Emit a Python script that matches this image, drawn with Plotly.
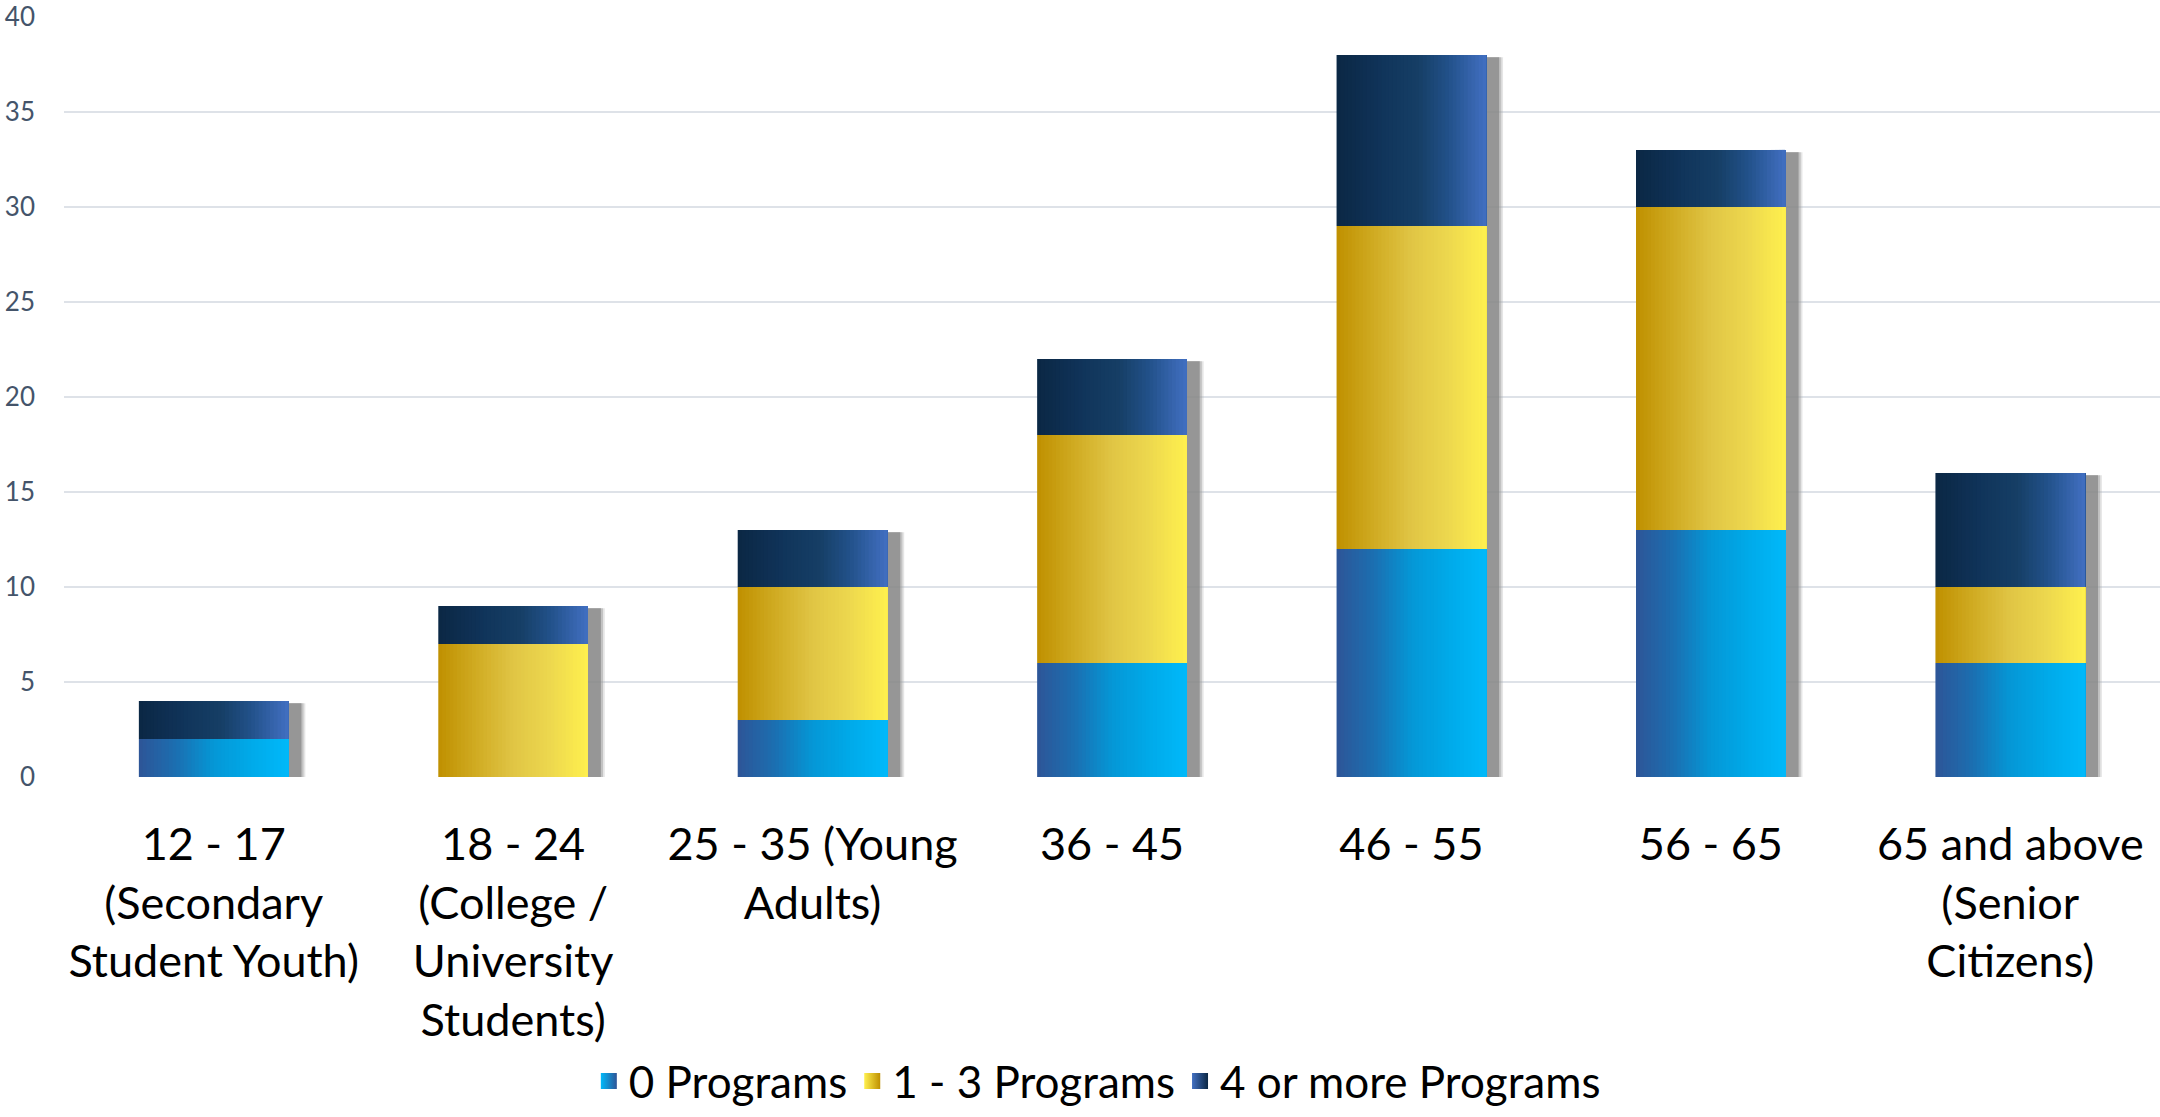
import plotly.graph_objects as go

categories = [
    "12 - 17<br>(Secondary<br>Student Youth)",
    "18 - 24<br>(College /<br>University<br>Students)",
    "25 - 35 (Young<br>Adults)",
    "36 - 45",
    "46 - 55",
    "56 - 65",
    "65 and above<br>(Senior<br>Citizens)",
]
series_names = ["0 Programs", "1 - 3 Programs", "4 or more Programs"]
zero_programs = [2, 0, 3, 6, 12, 13, 6]
one_to_three = [0, 7, 7, 12, 17, 17, 4]
four_plus = [2, 2, 3, 4, 9, 3, 6]
y_ticks = [0, 5, 10, 15, 20, 25, 30, 35, 40]

gradients = [
    [(0.0, "#2E5597"), (0.25, "#1B6FB1"), (0.5, "#0597D6"), (0.75, "#00AAE9"), (1.0, "#00B9FA")],
    [(0.0, "#BF9000"), (0.25, "#D0AB22"), (0.5, "#E0C545"), (0.75, "#EDD84E"), (1.0, "#FFF04E")],
    [(0.0, "#0B2744"), (0.3, "#10345A"), (0.55, "#163F66"), (0.75, "#22518A"), (1.0, "#4270C2")],
]

def hex2rgb(h):
    h = h.lstrip("#")
    return tuple(int(h[i:i + 2], 16) for i in (0, 2, 4))

def interp(stops, t):
    for (t0, c0), (t1, c1) in zip(stops, stops[1:]):
        if t0 <= t <= t1:
            f = (t - t0) / (t1 - t0) if t1 > t0 else 0
            a, b = hex2rgb(c0), hex2rgb(c1)
            r = [round(a[i] + (b[i] - a[i]) * f) for i in range(3)]
            return "rgb(%d,%d,%d)" % tuple(r)
    return stops[-1][1]

values = [zero_programs, one_to_three, four_plus]
x = list(range(len(categories)))
totals = [sum(v) for v in zip(*values)]
BAR_W = 0.5
N = 40

fig = go.Figure()

# soft drop shadows behind each stack
for dx, col in [(0.056, "rgba(170,170,170,0.30)"), (0.050, "rgba(150,150,150,0.45)"),
                (0.043, "rgba(135,135,135,0.75)")]:
    fig.add_trace(go.Bar(
        x=x, y=[t - 0.12 for t in totals], base=[0.0] * len(x), width=BAR_W, offset=-BAR_W / 2 + dx,
        marker=dict(color=col, line=dict(width=0)), showlegend=False, hoverinfo="skip"))

bases = [0] * len(x)
for s, vals in enumerate(values):
    for k in range(N):
        t = (k + 0.5) / N
        off = -BAR_W / 2 + k * BAR_W / N
        fig.add_trace(go.Bar(
            x=x, y=vals, base=list(bases), width=BAR_W - k * BAR_W / N,
            offset=off,
            marker=dict(color=interp(gradients[s], t), line=dict(width=0)),
            showlegend=False, hoverinfo="skip"))
    bases = [b + v for b, v in zip(bases, vals)]

# legend entries
for s, name in enumerate(series_names):
    fig.add_trace(go.Scatter(
        x=[None], y=[None], mode="markers", name=name,
        marker=dict(symbol="square", size=16, color=gradients[s][-1][1],
                    gradient=dict(type="horizontal", color=gradients[s][0][1]),
                    line=dict(width=0))))

fig.update_layout(
    width=2160, height=1117,
    margin=dict(l=64, r=0, t=16, b=340),
    paper_bgcolor="white", plot_bgcolor="white",
    barmode="overlay",
    font=dict(family="Lato, sans-serif"),
    showlegend=True,
    legend=dict(orientation="h", x=0.493, xanchor="center", xref="paper",
                yref="container", y=-0.0395, yanchor="bottom",
                font=dict(size=44, color="#000000"), itemwidth=30, tracegroupgap=0),
    xaxis=dict(range=[-0.5, 6.5], tickvals=x, ticktext=categories, showgrid=False,
               zeroline=False, showline=False, ticks="", ticklabelstandoff=37,
               automargin=False, tickfont=dict(size=45, color="#000000")),
    yaxis=dict(range=[0, 40.05], tickvals=y_ticks, showgrid=True, gridcolor="#DEE2E8",
               gridwidth=2, zeroline=False, showline=False, ticks="", automargin=False,
               ticklabelstandoff=28, tickfont=dict(size=26, color="#44546A")),
)

fig.write_html("out.html", config={"displayModeBar": False},
               post_script="document.body.style.margin='0';document.body.style.overflow='hidden';")
